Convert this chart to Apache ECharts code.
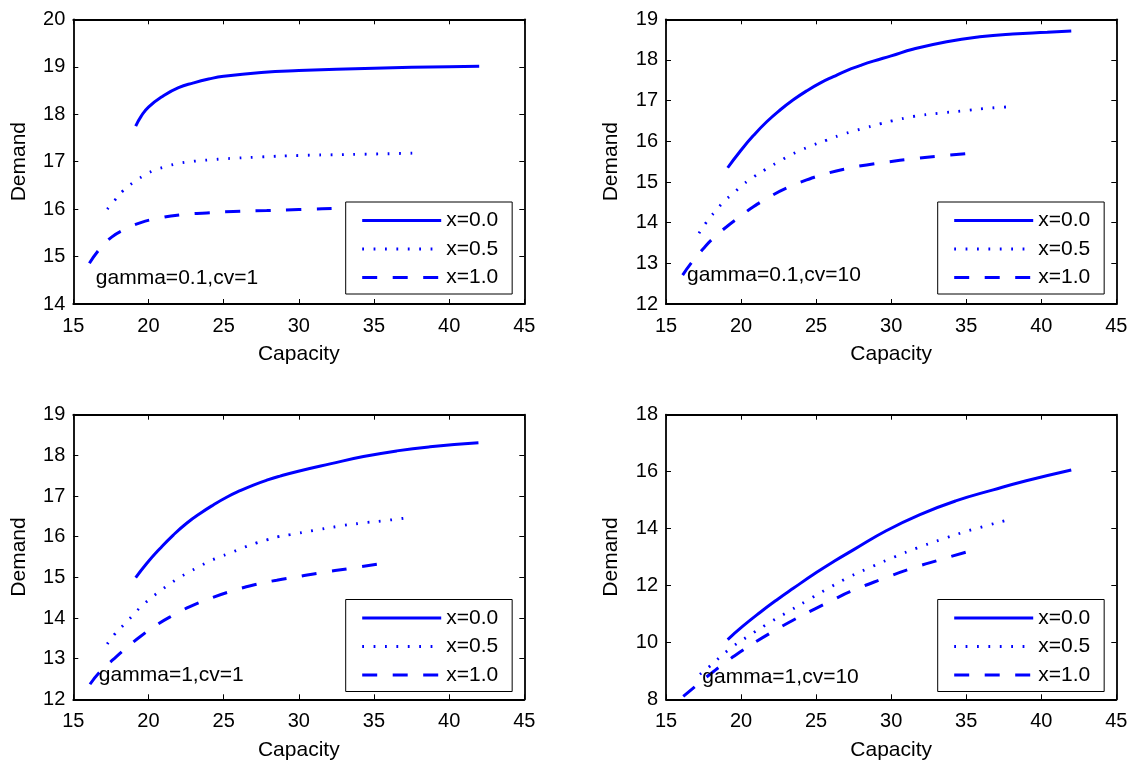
<!DOCTYPE html>
<html>
<head>
<meta charset="utf-8">
<script src="https://cdn.jsdelivr.net/npm/echarts@6/dist/echarts.min.js"></script>
<style>
  html, body { margin: 0; padding: 0; background: #fff; }
  #chart { width: 1147px; height: 762px; }
</style>
</head>
<body>
<div id="chart"></div>
<script>
// ---- data -------------------------------------------------------------
const lineNames = ['x=0.0', 'x=0.5', 'x=1.0'];
const panelLabels = ['gamma=0.1,cv=1', 'gamma=0.1,cv=10', 'gamma=1,cv=1', 'gamma=1,cv=10'];
const labelAnchors = [[16.5, 14.55], [16.4, 12.71], [16.7, 12.6], [17.42, 8.77]];
const capacityTicks = [15, 45, 5];               // min, max, step
const demandTicks = [[14, 20, 1], [12, 19, 1], [12, 19, 1], [8, 18, 2]];

// gamma=0.1, cv=1   — [capacity, demand]
const g01cv1_x00 = [[19.15,17.75],[19.5,17.95],[20,18.15],[21,18.39],[22,18.56],[23,18.66],[24,18.74],[25,18.80],[27.5,18.88],[30,18.92],[35,18.97],[40,19.0],[42,19.01]];
const g01cv1_x05 = [[17.26,16.0],[17.77,16.19],[18.32,16.39],[18.99,16.56],[19.66,16.70],[20.32,16.81],[21.08,16.89],[21.81,16.95],[22.54,16.99],[23.38,17.02],[24.2,17.04],[25,17.06],[27.5,17.10],[30,17.13],[35,17.16],[37.8,17.18]];
const g01cv1_x10 = [[16.07,14.86],[16.78,15.17],[17.55,15.41],[18.33,15.56],[19.44,15.71],[20.55,15.80],[22.1,15.88],[23.88,15.92],[25.65,15.95],[27.87,15.97],[30,15.99],[33.1,16.02],[35.4,16.03]];

// gamma=0.1, cv=10
const g01cv10_x00 = [[19.11,15.35],[19.93,15.75],[20.82,16.14],[21.71,16.48],[22.6,16.77],[23.48,17.02],[24.37,17.24],[25.26,17.43],[26.15,17.59],[27.04,17.74],[27.92,17.86],[28.81,17.97],[30,18.1],[31.5,18.27],[33.7,18.45],[35.9,18.57],[38.1,18.64],[40.4,18.68],[42,18.71]];
const g01cv10_x05 = [[17.2,13.74],[17.71,14.02],[18.26,14.27],[18.86,14.52],[19.48,14.72],[20.15,14.94],[20.86,15.13],[21.64,15.31],[22.37,15.47],[23.19,15.64],[24.04,15.79],[24.81,15.91],[25.71,16.03],[26.59,16.15],[27.48,16.25],[28.37,16.34],[29.26,16.43],[30.04,16.5],[31.47,16.61],[33.14,16.69],[34.81,16.75],[36.37,16.81],[37.92,16.85]];
const g01cv10_x10 = [[16.11,12.71],[16.71,13.02],[17.48,13.36],[18.15,13.62],[19.04,13.9],[19.93,14.15],[20.82,14.39],[21.93,14.64],[23.04,14.85],[24.37,15.05],[25.71,15.21],[27.04,15.33],[28.37,15.42],[29.7,15.49],[31.47,15.57],[33.25,15.64],[35.36,15.71]];

// gamma=1, cv=1
const g1cv1_x00 = [[19.15,14.99],[19.88,15.34],[20.77,15.71],[21.65,16.04],[22.54,16.33],[23.43,16.57],[24.31,16.78],[25.2,16.97],[26.09,17.13],[26.98,17.27],[27.87,17.39],[28.75,17.49],[29.97,17.61],[32.08,17.79],[34.3,17.97],[36.52,18.11],[38.73,18.21],[41.95,18.31]];
const g1cv1_x05 = [[17.26,13.36],[17.77,13.61],[18.37,13.84],[18.95,14.06],[19.48,14.27],[20.1,14.47],[20.72,14.65],[21.32,14.81],[21.99,14.98],[22.65,15.12],[23.36,15.26],[24.09,15.4],[24.87,15.52],[25.65,15.63],[26.38,15.74],[27.14,15.84],[27.87,15.92],[28.64,16.0],[29.42,16.05],[30.97,16.15],[32.53,16.25],[34.08,16.33],[35.63,16.39],[37.29,16.47]];
const g1cv1_x10 = [[16.11,12.37],[16.78,12.68],[17.66,12.98],[18.55,13.27],[19.44,13.54],[20.55,13.83],[21.65,14.07],[22.76,14.28],[24.09,14.48],[25.42,14.65],[26.98,14.81],[28.53,14.93],[29.97,15.02],[31.41,15.11],[33.41,15.22],[35.36,15.33]];

// gamma=1, cv=10
const g1cv10_x00 = [[19.11,10.1],[20.1,10.56],[21.26,11.05],[22.4,11.5],[23.48,11.9],[25.04,12.46],[26.2,12.85],[27.48,13.25],[29.7,13.93],[31.92,14.49],[34.3,14.97],[36.8,15.36],[39.0,15.68],[42.0,16.06]];
const g1cv10_x05 = [[17.26,8.88],[17.89,9.15],[19.15,9.73],[20.48,10.22],[21.82,10.67],[23.15,11.08],[24.37,11.46],[25.81,11.9],[27.26,12.31],[28.81,12.68],[30.26,13.01],[31.7,13.31],[33.25,13.6],[34.81,13.87],[35.52,13.98],[37.87,14.32]];
const g1cv10_x10 = [[16.15,8.1],[17.05,8.5],[17.93,8.88],[18.82,9.24],[19.93,9.66],[21.04,10.04],[22.15,10.39],[23.15,10.69],[24.15,10.97],[24.93,11.18],[26.15,11.5],[27.26,11.78],[29.37,12.22],[31.37,12.6],[33.37,12.92],[35.3,13.22]];

const panelCurves = [
  [g01cv1_x00, g01cv1_x05, g01cv1_x10],
  [g01cv10_x00, g01cv10_x05, g01cv10_x10],
  [g1cv1_x00, g1cv1_x05, g1cv1_x10],
  [g1cv10_x00, g1cv10_x05, g1cv10_x10]
];

// ---- layout & style ---------------------------------------------------
const FONT = '"Liberation Sans", Arial, Helvetica, sans-serif';
const BLUE = '#0000ff';
const gridRects = [
  { left: 73.3, top: 19.3, width: 451, height: 284.7 },
  { left: 666, top: 19.3, width: 450.3, height: 284.7 },
  { left: 73.3, top: 414.7, width: 451, height: 284.6 },
  { left: 666, top: 414.7, width: 450.3, height: 284.6 }
];
const legendBoxes = [
  { left: 345.7, top: 202 },
  { left: 937.7, top: 202 },
  { left: 345.7, top: 599.5 },
  { left: 937.7, top: 599.5 }
];
const lineLooks = [
  { type: 'solid', width: 3 },
  { type: [1.8, 9.6], width: 2.8 },
  { type: [15, 15.5], width: 3 }
];

const axisLine = { show: true, onZero: false, lineStyle: { color: '#000', width: 1.8 } };
const axisTick = { show: true, inside: true, length: 5, lineStyle: { color: '#000', width: 1 } };

const grid = [], xAxis = [], yAxis = [], series = [], legend = [];

gridRects.forEach((r, i) => {
  grid.push(Object.assign({ outerBoundsMode: 'none', containLabel: false }, r));

  const [xmin, xmax, xstep] = capacityTicks;
  const [ymin, ymax, ystep] = demandTicks[i];

  const xBase = {
    gridIndex: i, type: 'value', min: xmin, max: xmax, interval: xstep,
    axisLine, axisTick, splitLine: { show: false }
  };
  xAxis.push(Object.assign({}, xBase, {
    position: 'bottom',
    name: 'Capacity', nameLocation: 'middle', nameGap: 40,
    nameTextStyle: { color: '#000', fontSize: 21, fontFamily: FONT },
    axisLabel: { show: true, color: '#000', fontSize: 20, fontFamily: FONT, margin: 12,
                 showMinLabel: true, showMaxLabel: true }
  }));
  xAxis.push(Object.assign({}, xBase, { position: 'top', axisLabel: { show: false } }));

  const yBase = {
    gridIndex: i, type: 'value', min: ymin, max: ymax, interval: ystep,
    axisLine, axisTick, splitLine: { show: false }
  };
  yAxis.push(Object.assign({}, yBase, {
    position: 'left',
    name: 'Demand', nameLocation: 'middle', nameGap: 44,
    nameTextStyle: { color: '#000', fontSize: 21, fontFamily: FONT },
    axisLabel: { show: true, color: '#000', fontSize: 20, fontFamily: FONT, margin: 8,
                 showMinLabel: true, showMaxLabel: true }
  }));
  yAxis.push(Object.assign({}, yBase, { position: 'right', axisLabel: { show: false } }));

  panelCurves[i].forEach((pts, k) => {
    series.push({
      type: 'line', name: lineNames[k],
      xAxisIndex: 2 * i, yAxisIndex: 2 * i,
      data: pts,
      symbol: 'none', showSymbol: false,
      smooth: 0.5,
      lineStyle: { color: BLUE, width: lineLooks[k].width, type: lineLooks[k].type, cap: 'butt' },
      itemStyle: { color: BLUE },
      emphasis: { disabled: true },
      silent: true, z: 2
    });
  });

  series.push({
    type: 'scatter', name: panelLabels[i],
    xAxisIndex: 2 * i, yAxisIndex: 2 * i,
    data: [labelAnchors[i]],
    symbolSize: 0,
    itemStyle: { color: '#000', opacity: 1 },
    label: { show: true, position: 'right', distance: 0, formatter: panelLabels[i],
             color: '#000000', opacity: 1, textBorderWidth: 0, textBorderColor: 'transparent',
             fontSize: 21, fontFamily: FONT },
    emphasis: { disabled: true },
    silent: true, z: 3
  });

  legend.push(Object.assign({
    orient: 'vertical',
    data: lineNames.map((n, k) => ({
      name: n,
      lineStyle: { color: BLUE, width: lineLooks[k].width, type: lineLooks[k].type, cap: 'butt' }
    })),
    itemWidth: 79, itemHeight: 20, itemGap: 7.5,
    padding: [8, 14, 6, 15],
    backgroundColor: '#fff', borderColor: '#000', borderWidth: 1, borderRadius: 0,
    selectedMode: false,
    itemStyle: { color: 'transparent', borderColor: 'transparent', borderWidth: 0 },
    textStyle: { color: '#000', fontSize: 21, fontFamily: FONT, lineHeight: 20 }
  }, legendBoxes[i]));
});

const chart = echarts.init(document.getElementById('chart'), null, { renderer: 'canvas' });
chart.setOption({
  animation: false,
  backgroundColor: '#fff',
  grid, xAxis, yAxis, series, legend,
  tooltip: { show: false }
});
</script>
</body>
</html>
